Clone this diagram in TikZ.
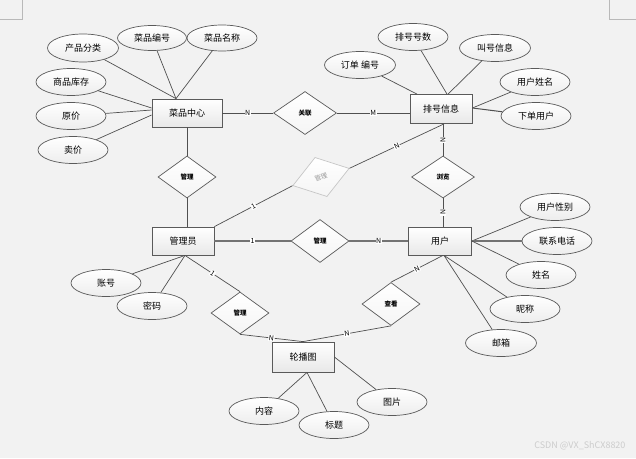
\documentclass[tikz,border=0pt]{standalone}
\usepackage{fontspec}
\setmainfont{Noto Sans CJK SC}
\usetikzlibrary{shapes.geometric}
\definecolor{bg}{RGB}{242,242,242}
\definecolor{ln}{RGB}{80,80,80}
\definecolor{bd}{RGB}{90,90,90}
\tikzset{
  ent/.style={rectangle, draw=bd, line width=0.8pt, top color=white, bottom color=gray!18,
    minimum width=62pt, minimum height=28pt, inner sep=0pt, font=\fontsize{9}{9}\selectfont},
  attr/.style={ellipse, draw=bd, line width=0.7pt, top color=white, bottom color=gray!14,
    minimum width=70pt, minimum height=27pt, inner sep=0pt, font=\fontsize{9}{9}\selectfont},
  rel/.style={diamond, draw=bd, line width=0.7pt, top color=white, bottom color=gray!8,
    minimum width=58pt, minimum height=42pt, inner sep=0pt, font=\bfseries\fontsize{6.5}{6.5}\selectfont},
  con/.style={draw=ln, line width=0.7pt},
  thk/.style={draw=gray!90!black, line width=1.1pt},
  lbl/.style={fill=white, inner sep=0.6pt, font=\fontsize{7}{7}\selectfont, sloped, midway},
}
\begin{document}
\begin{tikzpicture}[x=1pt,y=-1pt]
\fill[bg] (0,0) rectangle (636,458);
\useasboundingbox (0,0) rectangle (636,458);
% corner marks
\draw[gray!55, line width=0.6pt] (22,0) -- (22,19) -- (0,19);
\draw[gray!55, line width=0.6pt] (609,0) -- (609,19) -- (636,19);

% entities
\node[ent, minimum width=70pt] (cp) at (187,113) {菜品中心};
\node[ent, minimum height=29pt] (ph) at (441,109) {排号信息};
\node[ent] (gly) at (183,241) {管理员};
\node[ent, minimum width=63pt] (yh) at (440,241) {用户};
\node[ent, minimum height=30pt] (lbt) at (303,357) {轮播图};

% relationships
\node[rel] (gl1) at (187,177) {管理};
\node[rel, minimum width=63pt, minimum height=43pt] (gx) at (305,113) {关联};
\node[rel, draw=gray!45, rotate=17, minimum width=59pt, minimum height=41pt,
      text=gray!80, font=\fontsize{6.5}{6.5}\selectfont] (gl2) at (321,177) {管理};
\node[rel, minimum width=63pt] (lb) at (443,177) {浏览};
\node[rel, minimum height=43pt] (gl3) at (320,241) {管理};
\node[rel] (gl4) at (240,313) {管理};
\node[rel, minimum height=43pt] (ck) at (391,304) {查看};

% attributes
\node[attr, minimum width=71pt, minimum height=28pt] (cpfl) at (83,48) {产品分类};
\node[attr, minimum width=69pt, minimum height=25pt] (cpbh) at (152,38) {菜品编号};
\node[attr, minimum height=26pt] (cpmc) at (222,38) {菜品名称};
\node[attr] (spkc) at (71,82) {商品库存};
\node[attr] (yj) at (71,116) {原价};
\node[attr] (mj) at (73,150) {卖价};
\node[attr, minimum width=71pt] (ddbh) at (360,65) {订单 编号};
\node[attr] (phhs) at (413,37) {排号号数};
\node[attr, minimum width=71pt] (jhxx) at (495,48) {叫号信息};
\node[attr] (yhxm) at (535,82) {用户姓名};
\node[attr] (xdyh) at (536,116) {下单用户};
\node[attr] (yhxb) at (555,207) {用户性别};
\node[attr] (lxdh) at (557,241) {联系电话};
\node[attr] (xm) at (541,275) {姓名};
\node[attr] (nc) at (525,309) {昵称};
\node[attr, minimum width=71pt] (yx) at (501,343) {邮箱};
\node[attr] (tp) at (392,402) {图片};
\node[attr] (bt) at (334,425) {标题};
\node[attr] (nr) at (264,411) {内容};
\node[attr] (zh) at (106,283) {账号};
\node[attr] (mm) at (152,306) {密码};

% attribute connectors
\draw[con] (cpfl) -- ([xshift=-11pt]cp.north);
\draw[con] (cpbh) -- ([xshift=-11pt]cp.north);
\draw[con] (cpmc) -- ([xshift=-11pt]cp.north);
\draw[con] (spkc) -- ([yshift=5pt]cp.west);
\draw[con] (yj) -- ([yshift=3pt]cp.west);
\draw[con] (mj) -- ([yshift=-2pt]cp.west);

\draw[con] (ddbh) -- ([xshift=-24pt]ph.north);
\draw[con] (phhs) -- ([xshift=6pt]ph.north);
\draw[con] (jhxx) -- ([xshift=7pt]ph.north);
\draw[con] (yhxm) -- ([yshift=1pt]ph.east);
\draw[con, line width=1pt] (xdyh) -- ([yshift=1pt]ph.east);

\draw[con] (yhxb) -- (yh.east);
\draw[thk] (lxdh) -- (yh.east);
\draw[con] (xm) -- (yh.east);
\draw[con] (nc) -- ([xshift=4pt]yh.south);
\draw[con] (yx) -- ([xshift=4pt]yh.south);

\draw[con] (nr) -- ([xshift=4pt]lbt.south);
\draw[con] (bt) -- ([xshift=4pt]lbt.south);
\draw[con] (tp) -- ([yshift=0pt]lbt.east);

\draw[con] (zh) -- ([xshift=2pt]gly.south);
\draw[con] (mm) -- ([xshift=2pt]gly.south);

% relationship connectors
\draw[con] (cp.east) -- (gx.west) node[lbl] {N};
\draw[con] (gx.east) -- (gx.east -| ph.west) node[lbl] {M};
\draw[con] (lb.north |- ph.south) -- (lb.north) node[lbl] {N};
\draw[con] (lb.south) -- (lb.south |- yh.north) node[lbl] {N};
\draw[con] ([xshift=3pt]ph.south) -- (gl2.east) node[lbl] {N};
\draw[con] (gl2.west) -- (gly.north east) node[lbl] {1};
\draw[con] (cp.south) -- (gl1.north);
\draw[con] (gl1.south) -- (gl1.south |- gly.north);
\draw[thk] (gly.east) -- (gl3.west) node[lbl] {1};
\draw[thk] (gl3.east) -- (yh.west) node[lbl] {N};
\draw[con] ([xshift=2pt]gly.south) -- (gl4.north) node[lbl] {1};
\draw[con] (gl4.south) -- (lbt.north) node[lbl] {N};
\draw[con] (ck.south) -- (lbt.north) node[lbl] {N};
\draw[con] ([xshift=3pt]yh.south) -- (ck.north) node[lbl] {N};

% watermark
\node[text=gray!40, font=\fontsize{9}{9}\selectfont, anchor=east] (wm) at (629,446) {CSDN @VX\_ShCX8820};
\end{tikzpicture}
\end{document}
